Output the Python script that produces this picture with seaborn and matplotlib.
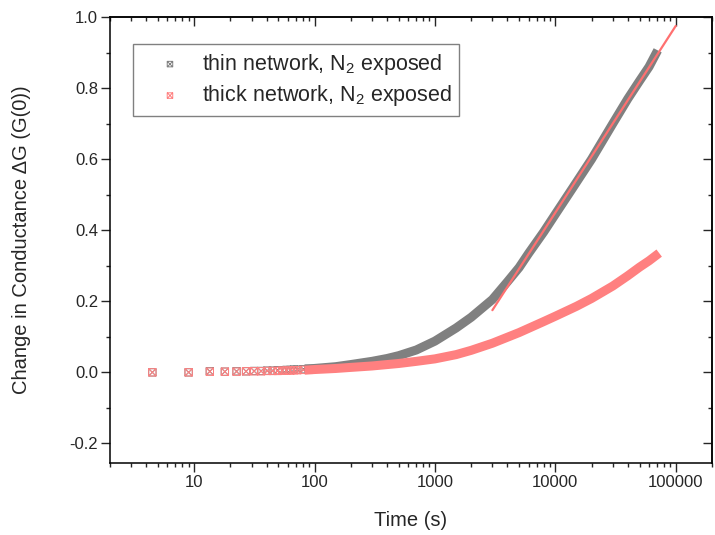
import numpy as np
import pandas as pd
import matplotlib
matplotlib.use("Agg")
import matplotlib.pyplot as plt
from matplotlib.path import Path
from matplotlib.ticker import MultipleLocator, LogLocator, NullFormatter
import seaborn as sns

# Data
thin_t = [4.5, 9, 13.5, 18, 22.5, 27, 31.5, 36, 40.5, 45, 49.5, 54, 58.5, 63, 67.5, 72,
          81, 90, 100, 150, 200, 300, 400, 500, 700, 1000, 1500, 2000, 3000, 4000,
          5000, 6000, 8000, 10000, 14000, 20000, 30000, 40000, 50000, 60000, 68000]
thin_g = [0.0, 0.0, 0.003, 0.002, 0.003, 0.003, 0.004, 0.004, 0.005, 0.005, 0.006, 0.006,
          0.007, 0.007, 0.008, 0.008, 0.009, 0.010, 0.011, 0.016, 0.022, 0.031, 0.039,
          0.047, 0.063, 0.088, 0.125, 0.155, 0.205, 0.255, 0.295, 0.335, 0.395, 0.445,
          0.52, 0.60, 0.70, 0.77, 0.82, 0.86, 0.895]

thick_t = [4.5, 9, 13.5, 18, 22.5, 27, 31.5, 36, 40.5, 45, 49.5, 54, 58.5, 63, 67.5, 72,
           81, 90, 100, 150, 200, 300, 500, 700, 1000, 1500, 2000, 3000, 5000, 8000,
           10000, 15000, 20000, 30000, 40000, 50000, 60000, 68000]
thick_g = [0.0, 0.0, 0.002, 0.002, 0.002, 0.003, 0.003, 0.003, 0.004, 0.004, 0.004, 0.005,
           0.005, 0.005, 0.006, 0.006, 0.007, 0.007, 0.008, 0.011, 0.014, 0.018, 0.025,
           0.031, 0.038, 0.050, 0.062, 0.082, 0.112, 0.143, 0.158, 0.186, 0.208, 0.243,
           0.272, 0.296, 0.314, 0.328]

fit_t = [3000, 100000]
fit_g = [0.175, 0.975]

thin = pd.DataFrame({"t": thin_t, "g": thin_g})
thick = pd.DataFrame({"t": thick_t, "g": thick_g})
fit = pd.DataFrame({"t": fit_t, "g": fit_g})

sns.set_theme(style="ticks")
plt.rcParams["font.family"] = ["Liberation Sans", "DejaVu Sans"]
plt.rcParams["mathtext.fontset"] = "custom"
plt.rcParams["mathtext.rm"] = "Liberation Sans"
plt.rcParams["mathtext.it"] = "Liberation Sans:italic"

gray = "#808080"
red = "#ff8080"

# square with a cross, like the Origin marker
box_x = Path(
    [(-1, -1), (1, -1), (1, 1), (-1, 1), (-1, -1), (-1, -1), (1, 1), (-1, 1), (1, -1)],
    [Path.MOVETO, Path.LINETO, Path.LINETO, Path.LINETO, Path.CLOSEPOLY,
     Path.MOVETO, Path.LINETO, Path.MOVETO, Path.LINETO],
)

fig = plt.figure(figsize=(7.15, 5.35), dpi=100)
ax = fig.add_axes([0.1538, 0.1346, 0.842, 0.8336])

# dense parts of the records appear as thick bands, early sparse points as markers
sns.lineplot(data=thin[thin["t"] >= 90], x="t", y="g", color=gray, lw=6.5,
             solid_capstyle="projecting", ax=ax, legend=False)
sns.scatterplot(data=thin[thin["t"] < 100], x="t", y="g", marker=box_x, s=28,
                facecolors="none", edgecolors=gray, linewidths=0.7, ax=ax,
                label=r"thin network, N$_2$ exposed")
sns.lineplot(data=thick[thick["t"] >= 90], x="t", y="g", color=red, lw=6.5,
             solid_capstyle="projecting", ax=ax, legend=False)
sns.scatterplot(data=thick[thick["t"] < 100], x="t", y="g", marker=box_x, s=28,
                facecolors="none", edgecolors=red, linewidths=0.7, ax=ax,
                label=r"thick network, N$_2$ exposed")
sns.lineplot(data=fit, x="t", y="g", color="#ff7070", lw=1.6, ax=ax, legend=False)

ax.set_xscale("log")
ax.set_xlim(2, 2e5)
ax.yaxis.set_minor_locator(MultipleLocator(0.1))
ax.xaxis.set_minor_locator(LogLocator(base=10, subs=np.arange(2, 10), numticks=20))
ax.xaxis.set_minor_formatter(NullFormatter())
ax.set_xticks([10, 100, 1000, 10000, 100000])
ax.set_xticklabels(["10", "100", "1000", "10000", "100000"])
ax.set_yticks([-0.2, 0.0, 0.2, 0.4, 0.6, 0.8, 1.0])
ax.set_yticklabels(["-0.2", "0.0", "0.2", "0.4", "0.6", "0.8", "1.0"])
ax.set_ylim(-0.255, 1.0)

ax.tick_params(which="major", direction="out", length=6.5, width=1, pad=2, labelsize=12)
ax.tick_params(which="minor", direction="out", length=3.2, width=1)
for s in ax.spines.values():
    s.set_linewidth(1.1)
    s.set_color("black")

# inward ticks on top and right, no labels
top = ax.secondary_xaxis("top")
top.set_xticks([10, 100, 1000, 10000, 100000])
top.xaxis.set_minor_locator(LogLocator(base=10, subs=np.arange(2, 10), numticks=20))
top.xaxis.set_minor_formatter(NullFormatter())
top.tick_params(which="major", direction="in", length=6.5, width=1, labeltop=False)
top.tick_params(which="minor", direction="in", length=3.2, width=1)
right = ax.secondary_yaxis("right")
right.yaxis.set_major_locator(MultipleLocator(0.2))
right.yaxis.set_minor_locator(MultipleLocator(0.1))
right.tick_params(which="major", direction="in", length=6.5, width=1, labelright=False)
right.tick_params(which="minor", direction="in", length=3.2, width=1)

ax.set_xlabel("Time (s)", fontsize=14.5, labelpad=15)
ax.set_ylabel("Change in Conductance \u0394G (G(0))", fontsize=14.5, labelpad=28)

leg = ax.legend(loc="upper left", bbox_to_anchor=(0.038, 0.939), borderaxespad=0,
                fontsize=15.5, frameon=True, fancybox=False, edgecolor="#808080",
                framealpha=1, borderpad=0.35, handlelength=2.75, handletextpad=0.1,
                labelspacing=0.3, markerscale=0.75)
leg.get_frame().set_linewidth(1)

plt.savefig("out.png", dpi=100)
